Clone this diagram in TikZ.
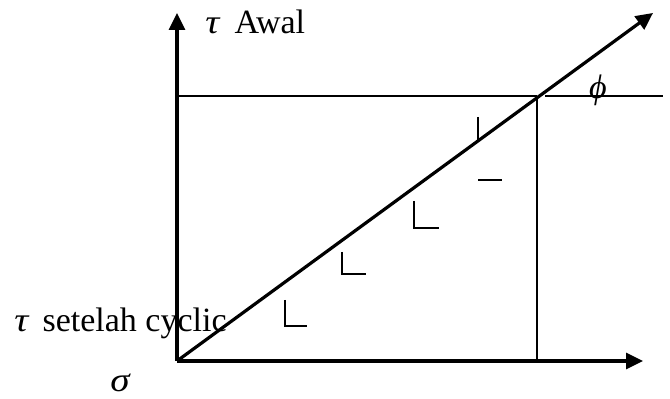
\documentclass[tikz,border=0pt]{standalone}
\usepackage{fontspec}
\setmainfont{Liberation Serif}
\usepackage{graphicx}
\usetikzlibrary{arrows.meta}
\newcommand{\wideg}[1]{\scalebox{1.15}[1.0]{\textit{#1}}}
\begin{document}
\begin{tikzpicture}[x=0.5pt,y=-0.5pt,
  axis/.style={line width=1.6pt,-{Triangle[length=8.5pt,width=8pt]}},
  thin line/.style={line width=1.1pt},
  marker/.style={line width=1.1pt},
  lbl/.style={inner sep=0pt,font=\fontsize{17}{20}\selectfont}]
\useasboundingbox (0,0) rectangle (670,399);
% coordinates
\coordinate (O) at (177,361);
\coordinate (Ytip) at (177,13);
\coordinate (Xtip) at (643,361);
\coordinate (Dtip) at (653,13);
\coordinate (P) at (537,96);
\coordinate (Hl) at (177,96);
\coordinate (Hr1) at (545,96);
\coordinate (Hr2) at (663,96);
\coordinate (Pb) at (537,361);
% axes
\draw[axis] (O) -- (Ytip);
\draw[axis] (O) -- (Xtip);
\draw[axis] (O) -- (Dtip);
% lines
\draw[thin line] (Hl) -- (P);
\draw[thin line] (Hr1) -- (Hr2);
\draw[thin line] (P) -- (Pb);
% markers
\coordinate (m1a) at (478,117); \coordinate (m1b) at (478,141);
\draw[marker] (m1a) -- (m1b);
\coordinate (m2a) at (478,180); \coordinate (m2b) at (502,180);
\draw[marker] (m2a) -- (m2b);
\coordinate (m3a) at (414,201); \coordinate (m3b) at (414,228); \coordinate (m3c) at (439,228);
\draw[marker] (m3a) -- (m3b) -- (m3c);
\coordinate (m4a) at (342,252); \coordinate (m4b) at (342,274); \coordinate (m4c) at (366,274);
\draw[marker] (m4a) -- (m4b) -- (m4c);
\coordinate (m5a) at (285,300); \coordinate (m5b) at (285,326); \coordinate (m5c) at (307,326);
\draw[marker] (m5a) -- (m5b) -- (m5c);
% labels
\node[lbl,anchor=base west] (tawal) at (205,34) {\wideg{τ}\hspace{7pt}Awal};
\node[lbl,anchor=base west] (tcyc) at (14,332) {\wideg{τ}\hspace{6.5pt}setelah cyclic};
\node[lbl,anchor=base west] (sig) at (110,392) {\wideg{σ}};
\node[lbl] (phi) at (598,90) {\textit{ϕ}};
\end{tikzpicture}
\end{document}
